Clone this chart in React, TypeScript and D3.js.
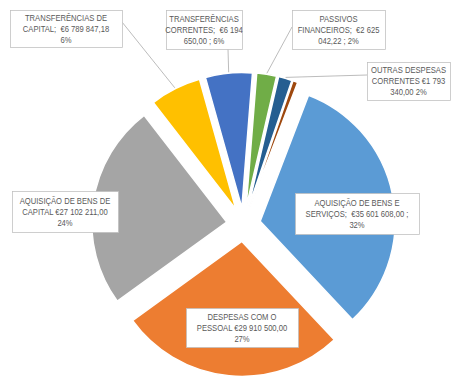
import React from "react";
import * as d3 from "d3";

const categories = [
  "AQUISIÇÃO DE BENS E SERVIÇOS",
  "DESPESAS COM O PESSOAL",
  "AQUISIÇÃO DE BENS DE CAPITAL",
  "TRANSFERÊNCIAS DE CAPITAL",
  "TRANSFERÊNCIAS CORRENTES",
  "PASSIVOS FINANCEIROS",
  "OUTRAS DESPESAS CORRENTES",
  "OUTROS",
];
const values = [35601608.0, 29910500.0, 27102211.0, 6789847.18, 6194650.0, 2625042.22, 1793340.0, 650000.0];
const colors = ["#5B9BD5", "#ED7D31", "#A5A5A5", "#FFC000", "#4472C4", "#70AD47", "#255E91", "#9E480E"];
const labelLines: (string[] | null)[] = [
  ["AQUISIÇÃO DE BENS E", "SERVIÇOS;  €35 601 608,00 ;", "32%"],
  ["DESPESAS COM O", "PESSOAL €29 910 500,00", "27%"],
  ["AQUISIÇÃO DE BENS DE", "CAPITAL €27 102 211,00", "24%"],
  ["TRANSFERÊNCIAS DE", "CAPITAL;  €6 789 847,18", "6%"],
  ["TRANSFERÊNCIAS", "CORRENTES;  €6 194", "650,00 ; 6%"],
  ["PASSIVOS", "FINANCEIROS;  €2 625", "042,22 ; 2%"],
  ["OUTRAS DESPESAS", "CORRENTES €1 793", "340,00 2%"],
  null,
];
// label box layout [x, y, w, h]
const labelBoxes: ([number, number, number, number] | null)[] = [
  [295, 193, 124, 41],
  [186, 308, 112, 39],
  [12, 191, 106, 41],
  [10, 10, 112, 37],
  [166, 10, 76, 39],
  [292, 10, 93, 39],
  [367, 62, 83, 38],
  null,
];
// leader line start points (on the label box edge)
const leaderStarts: ([number, number] | null)[] = [
  null, null, null,
  [122, 22],
  [228, 49],
  [292, 27],
  [367, 75],
  null,
];

const W = 462, H = 390;
const CX = 243.5, CY = 224.5, R = 135, EXPLODE = 17;
const START = (21 * Math.PI) / 180;

export default function App() {
  const pie = d3
    .pie<number>()
    .sort(null)
    .startAngle(START)
    .endAngle(START + 2 * Math.PI);
  const arcs = pie(values);
  const arcGen = d3.arc<d3.PieArcDatum<number>>().innerRadius(0).outerRadius(R);

  const font = "'Liberation Sans', Arial, sans-serif";
  const SX = 0.82;

  return (
    <svg
      width={W}
      height={H}
      style={{ position: "absolute", left: 0, top: 0, background: "#fff" }}
      xmlns="http://www.w3.org/2000/svg"
    >
      <rect x={0} y={0} width={W} height={H} fill="#fff" />
      <g transform={`translate(${CX},${CY})`}>
        {arcs.map((a, i) => {
          const mid = (a.startAngle + a.endAngle) / 2;
          const dx = EXPLODE * Math.sin(mid);
          const dy = -EXPLODE * Math.cos(mid);
          return (
            <path
              key={categories[i]}
              d={arcGen(a) || ""}
              transform={`translate(${dx},${dy})`}
              fill={colors[i]}
              stroke="#fff"
              strokeWidth={1.5}
              strokeLinejoin="round"
            />
          );
        })}
      </g>
      {arcs.map((a, i) => {
        const s = leaderStarts[i];
        if (!s) return null;
        const mid = (a.startAngle + a.endAngle) / 2;
        const rr = R + EXPLODE + 1;
        const ex = CX + rr * Math.sin(mid);
        const ey = CY - rr * Math.cos(mid);
        return (
          <line key={"l" + i} x1={s[0]} y1={s[1]} x2={ex} y2={ey} stroke="#a6a6a6" strokeWidth={0.75} />
        );
      })}
      {labelLines.map((lines, i) => {
        const b = labelBoxes[i];
        if (!lines || !b) return null;
        const [x, y, w, h] = b;
        const cx = x + w / 2;
        const cy = y + h / 2;
        const lh = 11;
        return (
          <g key={"t" + i}>
            <rect x={x + 0.5} y={y + 0.5} width={w} height={h} fill="#fff" stroke="#bfbfbf" strokeWidth={0.75} />
            <g transform={`translate(${cx},${cy}) scale(${SX},1)`}>
              <text textAnchor="middle" fontFamily={font} fontSize={9.3} fill="#595959">
                {lines.map((ln, k) => (
                  <tspan key={k} x={0} y={(k - 1) * lh + 3.3} xmlSpace="preserve">
                    {ln}
                  </tspan>
                ))}
              </text>
            </g>
          </g>
        );
      })}
    </svg>
  );
}
